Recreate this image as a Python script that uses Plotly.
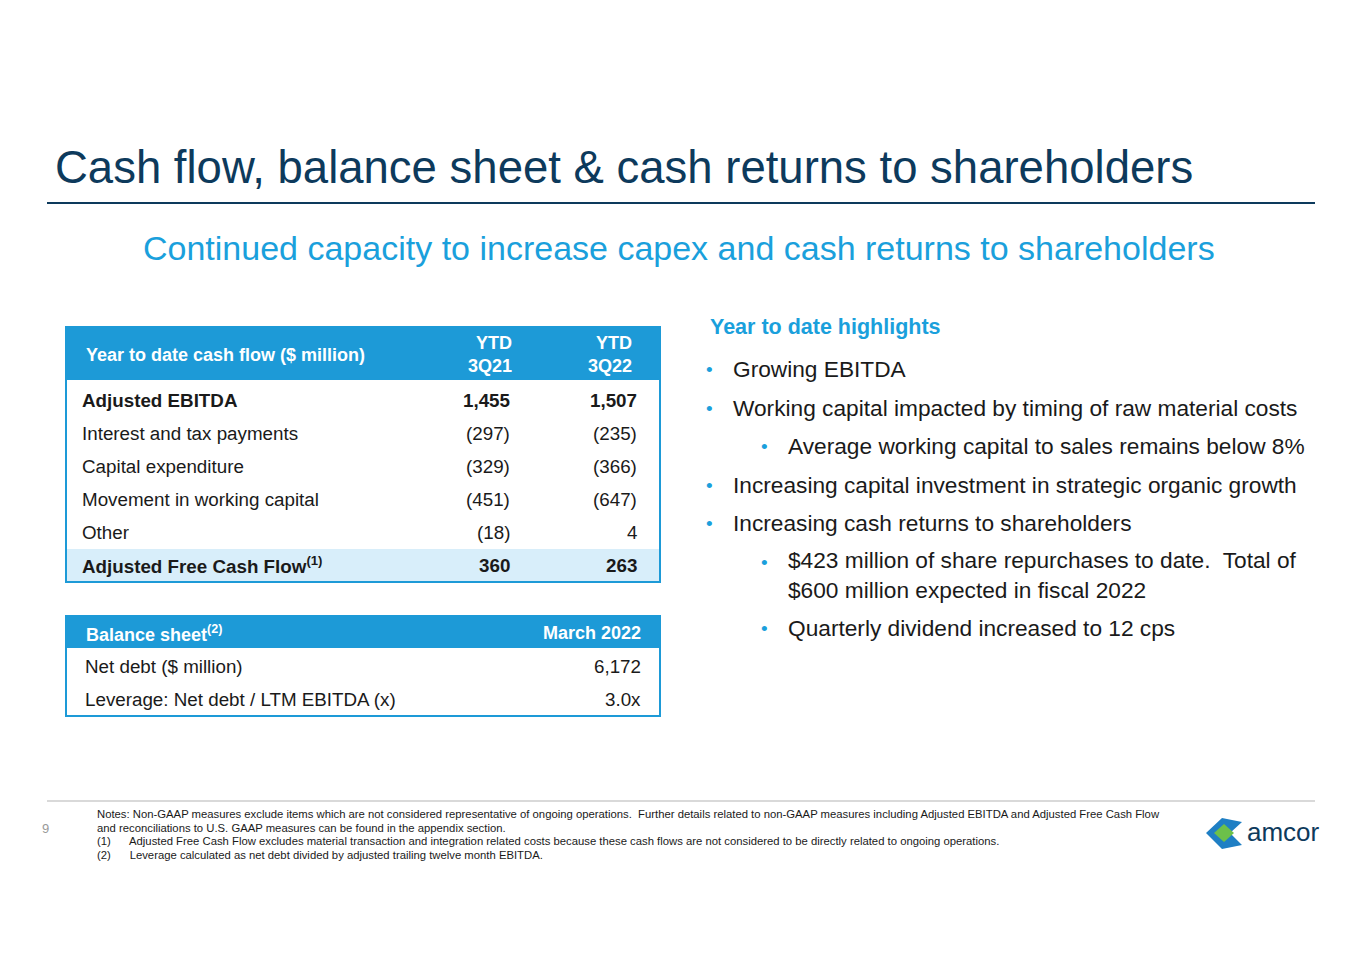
import plotly.graph_objects as go

title = "Cash flow, balance sheet & cash returns to shareholders"
subtitle = "Continued capacity to increase capex and cash returns to shareholders"
cf_header = ["Year to date cash flow ($ million)", "YTD<br>3Q21", "YTD<br>3Q22"]
cf_labels = ["Adjusted EBITDA", "Interest and tax payments", "Capital expenditure",
             "Movement in working capital", "Other", "Adjusted Free Cash Flow<sup>(1)</sup>"]
cf_3q21 = ["1,455", "(297)", "(329)", "(451)", "(18)", "360"]
cf_3q22 = ["1,507", "(235)", "(366)", "(647)", "4", "263"]
cf_bold = [True, False, False, False, False, True]
bs_header = ["Balance sheet<sup>(2)</sup>", "March 2022"]
bs_labels = ["Net debt ($ million)", "Leverage: Net debt / LTM EBITDA (x)"]
bs_values = ["6,172", "3.0x"]
hl_title = "Year to date highlights"
bullets = [(1, "Growing EBITDA"),
           (1, "Working capital impacted by timing of raw material costs"),
           (2, "Average working capital to sales remains below 8%"),
           (1, "Increasing capital investment in strategic organic growth"),
           (1, "Increasing cash returns to shareholders"),
           (2, "$423 million of share repurchases to date.  Total of<br>$600 million expected in fiscal 2022"),
           (2, "Quarterly dividend increased to 12 cps")]
notes = ["Notes: Non-GAAP measures exclude items which are not considered representative of ongoing operations.  Further details related to non-GAAP measures including Adjusted EBITDA and Adjusted Free Cash Flow",
         "and reconciliations to U.S. GAAP measures can be found in the appendix section.",
         "(1)      Adjusted Free Cash Flow excludes material transaction and integration related costs because these cash flows are not considered to be directly related to ongoing operations.",
         "(2)      Leverage calculated as net debt divided by adjusted trailing twelve month EBITDA."]

NAVY = "#0d3a5c"; BLUE = "#1d9ad7"; LBLUE = "#1aa0dc"; TXT = "#1a1a1a"
F = "Liberation Sans, Arial"
fig = go.Figure()
shapes, ann = [], []

def A(x, y, t, size, color=TXT, xa="left", bold=False, **kw):
    if bold: t = "<b>" + t + "</b>"
    ann.append(dict(x=x, y=y, text=t, xref="x", yref="y", showarrow=False, xanchor=xa,
                    yanchor="middle", font=dict(family=F, size=size, color=color), **kw))

def R(x0, y0, x1, y1, fill=None, line=None, w=0):
    shapes.append(dict(type="rect", xref="x", yref="y", x0=x0, y0=y0, x1=x1, y1=y1,
                       fillcolor=fill or "rgba(0,0,0,0)", line=dict(color=line or "rgba(0,0,0,0)", width=w), layer="below"))

A(53, 167, title, 45.5, NAVY)
shapes.append(dict(type="line", xref="x", yref="y", x0=47, x1=1315, y0=203, y1=203, line=dict(color=NAVY, width=2)))
A(679, 248, subtitle, 34, LBLUE, xa="center")

# cash flow table
R(66, 327, 660, 380, fill=BLUE)
R(66, 549, 660, 582, fill="#d8eefa")
R(66, 327, 660, 582, line=BLUE, w=2)
A(84, 355, cf_header[0], 18, "white", bold=True)
A(514, 354, cf_header[1], 18, "white", xa="right", bold=True, align="right")
A(634, 354, cf_header[2], 18, "white", xa="right", bold=True, align="right")
for i, lab in enumerate(cf_labels):
    y = 400 + 33 * i
    b = cf_bold[i]
    A(80, y, lab, 18.8, TXT, bold=b)
    A(512, y, cf_3q21[i], 18.8, TXT, xa="right", bold=b)
    A(639, y, cf_3q22[i], 18.8, TXT, xa="right", bold=b)

# balance sheet
R(66, 616, 660, 648, fill=BLUE)
R(66, 616, 660, 716, line=BLUE, w=2)
A(84, 633, bs_header[0], 18, "white", bold=True)
A(643, 633, bs_header[1], 18, "white", xa="right", bold=True)
for i, lab in enumerate(bs_labels):
    y = 666 + 33 * i
    A(83, y, lab, 18.8, TXT)
    A(643, y, bs_values[i], 18.8, TXT, xa="right")

# highlights
A(708, 327, hl_title, 21.5, LBLUE, bold=True)
ys = [369, 408, 446, 485, 523, 575, 628]
for (lvl, t), y in zip(bullets, ys):
    bx = 704 if lvl == 1 else 759
    yb = y if "<br>" not in t else y - 13
    A(bx, yb, "•", 19, LBLUE)
    A(bx + 27, y, t, 22.7, TXT, align="left")

# footer
shapes.append(dict(type="line", xref="x", yref="y", x0=47, x1=1315, y0=801, y1=801, line=dict(color="#d9d9d9", width=2)))
A(40, 828, "9", 13, "#999999")
for i, n in enumerate(notes):
    A(95, 814 + 13.6 * i, n, 11.3, TXT)
# logo
shapes.append(dict(type="path", xref="x", yref="y",
                   path="M 1206 833 L 1222 818 L 1242 822 L 1230 833 L 1242 845 L 1222 849 Z",
                   fillcolor="#1f7fc4", line=dict(width=0)))
shapes.append(dict(type="path", xref="x", yref="y",
                   path="M 1214 833 L 1224 824 L 1234 833 L 1224 842 Z",
                   fillcolor="#6cc04a", line=dict(width=0)))
A(1245, 832, "amcor", 26, NAVY)

fig.update_layout(width=1365, height=965, margin=dict(l=0, r=0, t=0, b=0),
                  paper_bgcolor="white", plot_bgcolor="white", shapes=shapes, annotations=ann,
                  xaxis=dict(range=[8, 1373], visible=False, fixedrange=True),
                  yaxis=dict(range=[973, 8], visible=False, fixedrange=True), showlegend=False)
fig.write_html("out.html")
